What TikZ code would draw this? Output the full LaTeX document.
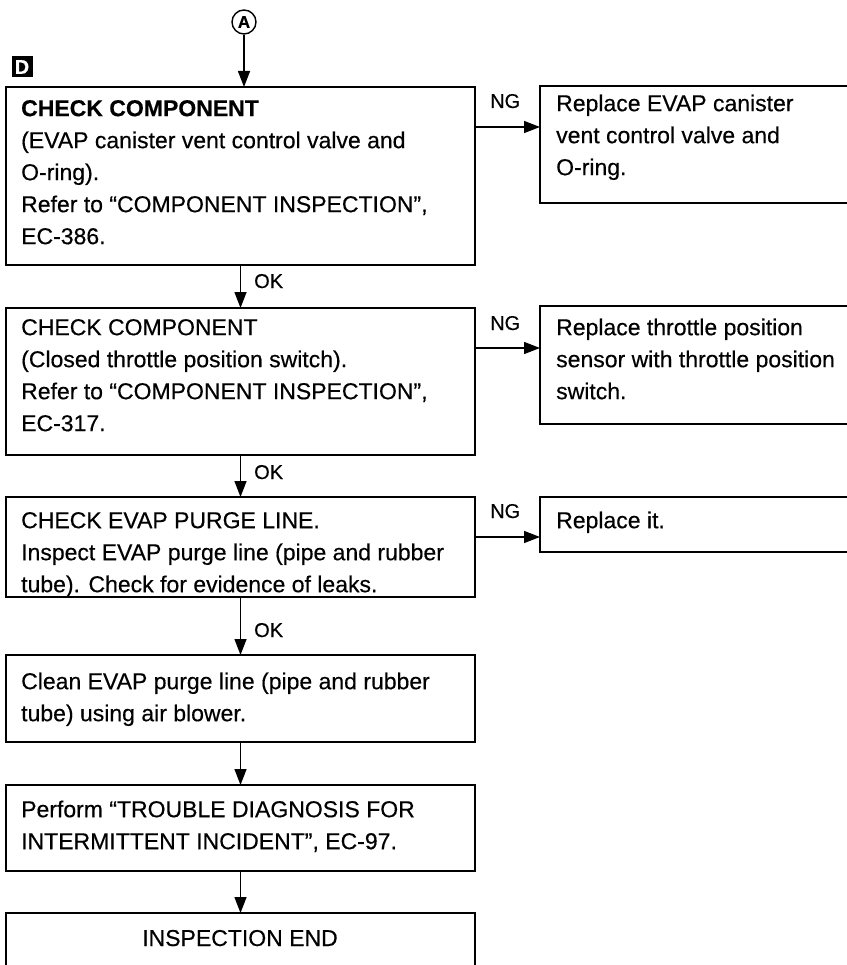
\documentclass[tikz,border=0pt]{standalone}
\usepackage{fontspec}
\setmainfont{Liberation Sans}[FakeBold=0.4]
\usetikzlibrary{arrows.meta}
\begin{document}
\begin{tikzpicture}[x=1pt,y=-1pt,
  frame/.style={draw,line width=1.5pt,inner sep=0pt,outer sep=0pt,anchor=north west},
  txt/.style={anchor=north west,inner sep=0pt,align=left,font=\fontsize{23}{32}\selectfont},
  lbl/.style={anchor=base west,inner sep=0pt,font=\fontsize{20}{22}\selectfont},
  arr/.style={draw,line width=1.4pt,-{Triangle[length=16pt,width=12pt]}}]
\useasboundingbox (0,0) rectangle (846,965);
% boxes
\node[frame,minimum width=469pt,minimum height=178pt] (b1) at (6,87) {};
\node[frame,minimum width=469pt,minimum height=147pt] (b2) at (6,308) {};
\node[frame,minimum width=469pt,minimum height=100pt] (b3) at (6,497) {};
\node[frame,minimum width=469pt,minimum height=87pt] (b4) at (6,655) {};
\node[frame,minimum width=469pt,minimum height=86pt] (b5) at (6,785) {};
\node[frame,minimum width=469pt,minimum height=90pt] (b6) at (6,913) {};
\node[frame,minimum width=320pt,minimum height=117pt] (n1) at (540,86) {};
\node[frame,minimum width=320pt,minimum height=118pt] (n2) at (540,306) {};
\node[frame,minimum width=320pt,minimum height=55pt] (n3) at (540,497) {};
% texts
\node[txt] (t1) at (21,99) {\rule{0pt}{17pt}\textbf{CHECK COMPONENT}\\
(EVAP canister vent control valve and\\
O-ring).\\
Refer to “COMPONENT INSPECTION”,\\
EC-386.};
\node[txt] (u1) at (556,94) {\rule{0pt}{17pt}Replace EVAP canister\\
vent control valve and\\
O-ring.};
\node[txt] (t2) at (21,318) {\rule{0pt}{17pt}CHECK COMPONENT\\
(Closed throttle position switch).\\
Refer to “COMPONENT INSPECTION”,\\
EC-317.};
\node[txt] (u2) at (556,318) {\rule{0pt}{17pt}Replace throttle position\\
sensor with throttle position\\
switch.};
\node[txt] (t3) at (21,511) {\rule{0pt}{17pt}CHECK EVAP PURGE LINE.\\
Inspect EVAP purge line (pipe and rubber\\
tube). Check for evidence of leaks.};
\node[txt] (u3) at (556,511) {\rule{0pt}{17pt}Replace it.};
\node[txt] (t4) at (21,672) {\rule{0pt}{17pt}Clean EVAP purge line (pipe and rubber\\
tube) using air blower.};
\node[txt] (t5) at (21,800) {\rule{0pt}{17pt}Perform “TROUBLE DIAGNOSIS FOR\\
INTERMITTENT INCIDENT”, EC-97.};
\node[anchor=base,inner sep=0pt,font=\fontsize{23}{32}\selectfont] (t6) at (240,946) {INSPECTION END};
% connector A and D marker
\node[draw,circle,line width=1.4pt,minimum size=24pt,inner sep=0pt,font=\bfseries\fontsize{17}{17}\selectfont] (A) at (244,22) {A};
\node[fill=black,text=white,minimum width=21pt,minimum height=21pt,inner sep=0pt,font=\bfseries\fontsize{20}{20}\selectfont] (D) at (22,67) {D};
\draw[arr] (A.south) -- (A.south |- b1.north);
% OK arrows
\draw[arr] (b1.south) -- (b2.north);
\draw[arr] (b2.south) -- (b3.north);
\draw[arr] (b3.south) -- (b4.north);
\draw[arr] (b4.south) -- (b5.north);
\draw[arr] (b5.south) -- (b6.north);
\node[lbl] (ok1) at (254,288) {OK};
\node[lbl] (ok2) at (254,479) {OK};
\node[lbl] (ok3) at (254,637) {OK};
% NG arrows
\coordinate (g1) at (0,127);
\coordinate (g2) at (0,348);
\coordinate (g3) at (0,537);
\draw[arr] (g1 -| b1.east) -- (g1 -| n1.west);
\draw[arr] (g2 -| b2.east) -- (g2 -| n2.west);
\draw[arr] (g3 -| b3.east) -- (g3 -| n3.west);
\node[lbl] (ng1) at (490,108) {NG};
\node[lbl] (ng2) at (490,330) {NG};
\node[lbl] (ng3) at (490,518) {NG};
\end{tikzpicture}
\end{document}
